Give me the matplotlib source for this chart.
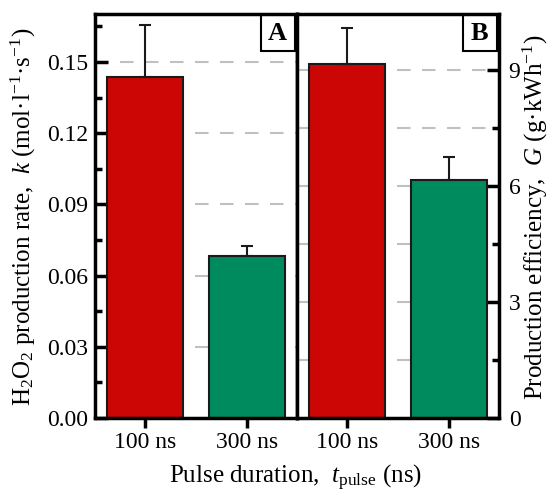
import matplotlib
matplotlib.use("Agg")
import matplotlib.pyplot as plt
from matplotlib.ticker import MultipleLocator, FormatStrFormatter
from matplotlib.patches import Rectangle

plt.rcParams['font.family'] = ['Liberation Serif', 'DejaVu Serif']
plt.rcParams['mathtext.fontset'] = 'custom'
plt.rcParams['mathtext.rm'] = 'Liberation Serif'
plt.rcParams['mathtext.it'] = 'Liberation Serif:italic'
plt.rcParams['mathtext.bf'] = 'Liberation Serif:bold'

categories = ["100 ns", "300 ns"]
k_values = [0.1435, 0.0683]
k_errors = [0.022, 0.0042]
G_values = [9.15, 6.15]
G_errors = [0.93, 0.60]
colors = ["#cc0605", "#008b5f"]

W, H = 553, 495
fig = plt.figure(figsize=(W / 100, H / 100), dpi=100)
left, right, bottom, top = 95, 499, 418, 14
mid = 297
axA = fig.add_axes([left / W, (H - bottom) / H, (mid - left) / W, (bottom - top) / H])
axB = fig.add_axes([mid / W, (H - bottom) / H, (right - mid) / W, (bottom - top) / H])

x = list(range(len(categories)))
for ax, vals, errs in ((axA, k_values, k_errors), (axB, G_values, G_errors)):
    ax.bar(x, vals, width=0.75, color=colors, edgecolor="#1a1a1a", linewidth=1.5, zorder=3,
           yerr=[[0, 0], errs],
           error_kw=dict(ecolor="#1a1a1a", elinewidth=1.5, capsize=4, capthick=1.5, zorder=4))
    ax.set_xlim(-0.49, 1.49)
    ax.set_xticks(x)
    ax.set_xticklabels(categories, fontsize=17)
    ax.tick_params(axis='x', direction='out', length=7, width=2.5, pad=3)
    for s in ax.spines.values():
        s.set_linewidth(2.5)
        s.set_zorder(6)

axA.set_ylim(0, 0.1702)
axA.yaxis.set_major_locator(MultipleLocator(0.03))
axA.yaxis.set_minor_locator(MultipleLocator(0.015))
axA.yaxis.set_major_formatter(FormatStrFormatter('%.2f'))
axA.tick_params(axis='y', which='major', direction='in', length=9, width=2.5, labelsize=17, pad=5)
axA.tick_params(axis='y', which='minor', direction='in', length=5, width=2.5)
axA.grid(axis='y', which='major', color='#c0c0c0', linestyle=(0, (6.5, 5.5)), linewidth=1.5, zorder=0)

axB.set_ylim(0, 10.45)
axB.yaxis.set_major_locator(MultipleLocator(3))
axB.yaxis.set_minor_locator(MultipleLocator(1.5))
axB.yaxis.tick_right()
axB.tick_params(axis='y', which='major', direction='in', length=9, width=2.5, labelsize=17, pad=7)
axB.tick_params(axis='y', which='minor', direction='in', length=5, width=2.5)
axB.grid(axis='y', which='both', color='#c0c0c0', linestyle=(0, (6.5, 5.5)), linewidth=1.5, zorder=0)

fig.text(23 / W, 1 - 217 / H, "H$_2$O$_2$ production rate,  $k$ (mol·l$^{-1}$·s$^{-1}$)",
         rotation=90, ha='center', va='center', fontsize=18)
fig.text(535 / W, 1 - 217 / H, "Production efficiency,  $G$ (g·kWh$^{-1}$)",
         rotation=90, ha='center', va='center', fontsize=18)
fig.text(296 / W, 1 - 478 / H, "Pulse duration,  $t_\\mathrm{pulse}$ (ns)",
         ha='center', va='center', fontsize=18)

for ax, lab in ((axA, "A"), (axB, "B")):
    x0, x1, y0, y1 = 0.82, 0.99, 0.908, 1.0
    ax.add_patch(Rectangle((x0, y0), x1 - x0, y1 - y0, transform=ax.transAxes,
                           facecolor='white', edgecolor='black', linewidth=1.5, zorder=5))
    ax.text((x0 + x1) / 2, (y0 + y1) / 2 - 0.003, lab, transform=ax.transAxes, ha='center', va='center',
            fontsize=19, fontweight='bold', zorder=6)

fig.savefig("out.png", dpi=100)
